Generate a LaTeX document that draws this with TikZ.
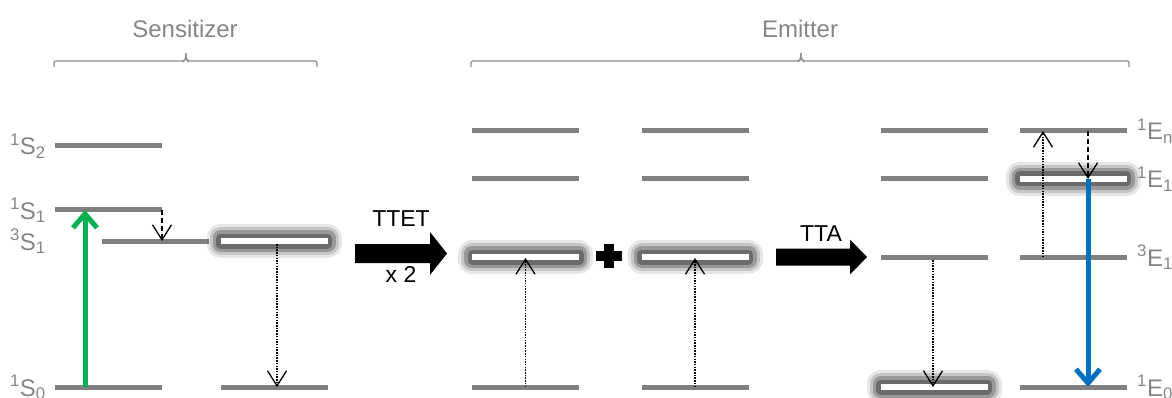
\documentclass[tikz,border=0pt]{standalone}
\usepackage{fontspec}
\setmainfont{Liberation Sans}
\usetikzlibrary{arrows.meta,calc}
\definecolor{lvlgray}{HTML}{808080}
\definecolor{txtgray}{HTML}{868686}
\definecolor{bracegray}{HTML}{8C8C8C}
\definecolor{grn}{HTML}{00B050}
\definecolor{blu}{HTML}{0070C0}
\begin{document}
\begin{tikzpicture}[x=1pt,y=-1pt,
  lvl/.style={rectangle, fill=lvlgray, minimum width=107pt, minimum height=5pt, inner sep=0pt, outer sep=0pt},
  hl/.style={rectangle, fill=white, minimum width=107pt, minimum height=6pt, inner sep=0pt, outer sep=0pt,
    preaction={draw=black!80, draw opacity=.12, line width=28pt, line join=round},
    preaction={draw=black!80, draw opacity=.18, line width=22pt, line join=round},
    preaction={draw=black!80, draw opacity=.30, line width=16pt, line join=round},
    preaction={draw=black!80, draw opacity=.45, line width=9pt, line join=round}},
  lab/.style={text=txtgray, font=\fontsize{24}{28}\selectfont, inner sep=0pt},
  blk/.style={text=black, font=\fontsize{23}{27}\selectfont, inner sep=0pt},
  brace/.style={draw=bracegray, line width=1.4pt, rounded corners=1.5pt},
  dotarrow/.style={line width=1.5pt, dash pattern=on 1.5pt off 1.2pt, -{Straight Barb[length=15pt,width=19pt,line width=1.3pt]}},
  dasharrow/.style={line width=1.4pt, dash pattern=on 5pt off 3pt, -{Straight Barb[length=15pt,width=19pt,line width=1.3pt]}},
  bigarrow/.style={line width=5pt, -{Straight Barb[length=14pt,width=24pt,line width=5pt]}},
]
\useasboundingbox (0,0) rectangle (1172,398);

% group titles and braces
\node[lab] (sens) at (185,29) {Sensitizer};
\node[lab] (emit) at (800,29) {Emitter};
\draw[brace] (54,67) -- (54,61) -- (184,61) -- (186,59) -- (186,53);
\draw[brace] (186,53) -- (186,59) -- (188,61) -- (317,61) -- (317,67);
\draw[brace] (471,67) -- (471,61) -- (799,61) -- (801,59) -- (801,53);
\draw[brace] (801,53) -- (801,59) -- (803,61) -- (1129,61) -- (1129,67);

% sensitizer levels
\node[lvl] (S2) at (108.5,146) {};
\node[lvl] (S1) at (108.5,210) {};
\node[lvl] (T1) at (155,241) {};
\node[hl]  (T1h) at (274,241) {};
\node[lvl] (S0a) at (108.5,387) {};
\node[lvl] (S0b) at (274,387) {};

% emitter levels
\foreach \g/\x in {A/525.5,B/695,C/934,D/1073}{
  \node[lvl] (En\g) at (\x,131) {};
}
\node[lvl] (EsA) at (525.5,179) {};
\node[lvl] (EsB) at (695,179) {};
\node[lvl] (EsC) at (934,179) {};
\node[hl]  (EsD) at (1073,179) {};
\node[hl]  (EtA) at (525.5,257) {};
\node[hl]  (EtB) at (695,257) {};
\node[lvl] (EtC) at (934,257) {};
\node[lvl] (EtD) at (1073,257) {};
\node[lvl] (E0A) at (525.5,387) {};
\node[lvl] (E0B) at (695,387) {};
\node[hl]  (E0C) at (934,387) {};
\node[lvl] (E0D) at (1073,387) {};

% level labels
\node[lab, anchor=base east] (lS2) at (46,155) {\textsuperscript{1}S\textsubscript{2}};
\node[lab, anchor=base east] (lS1) at (46,219) {\textsuperscript{1}S\textsubscript{1}};
\node[lab, anchor=base east] (lT1) at (46,250) {\textsuperscript{3}S\textsubscript{1}};
\node[lab, anchor=base east] (lS0) at (46,396) {\textsuperscript{1}S\textsubscript{0}};
\node[lab, anchor=base west] (lEn) at (1137,140) {\textsuperscript{1}E\textsubscript{n}};
\node[lab, anchor=base west] (lEs) at (1137,188) {\textsuperscript{1}E\textsubscript{1}};
\node[lab, anchor=base west] (lEt) at (1137,266) {\textsuperscript{3}E\textsubscript{1}};
\node[lab, anchor=base west] (lE0) at (1137,396) {\textsuperscript{1}E\textsubscript{0}};

% sensitizer transitions
\coordinate (gx) at (85,0);
\draw[bigarrow, grn] (S0a.center -| gx) -- (S1.center -| gx);
\draw[dasharrow] (S1.east) -- (S1.east |- T1.center);
\draw[dotarrow] ($(T1h.center)+(3,3)$) -- ($(S0b.center)+(3,0)$);

% block arrows and texts
\coordinate (ttet) at (401,253.5);
\fill[black] ($(ttet)+(-46,-9.5)$) -- ($(ttet)+(29,-9.5)$) -- ($(ttet)+(29,-21.5)$) -- ($(ttet)+(46,0)$)
  -- ($(ttet)+(29,21.5)$) -- ($(ttet)+(29,9.5)$) -- ($(ttet)+(-46,9.5)$) -- cycle;
\node[blk] (ttetlab) at (401,219) {TTET};
\node[blk] (x2lab) at (401,274) {x 2};
\coordinate (tta) at (821,257);
\fill[black] ($(tta)+(-45,-8.5)$) -- ($(tta)+(29,-8.5)$) -- ($(tta)+(29,-17.5)$) -- ($(tta)+(46,0)$)
  -- ($(tta)+(29,17.5)$) -- ($(tta)+(29,8.5)$) -- ($(tta)+(-45,8.5)$) -- cycle;
\node[blk] (ttalab) at (821,234) {TTA};

% plus sign
\coordinate (plus) at (609,256);
\fill[black] ($(plus)+(-13,-5)$) rectangle ($(plus)+(13,5)$);
\fill[black] ($(plus)+(-5,-12)$) rectangle ($(plus)+(5,12)$);

% emitter transitions
\draw[dotarrow] (E0A.center) -- ($(EtA.center)+(0,1)$);
\draw[dotarrow] (E0B.center) -- ($(EtB.center)+(0,1)$);
\draw[dotarrow] ($(EtC.center)+(-1,3)$) -- ($(E0C.center)+(-1,0)$);
\draw[dotarrow] ($(EtD.center)+(-30,0)$) -- ($(EnD.center)+(-30,0)$);
\draw[dasharrow] ($(EnD.center)+(15,0)$) -- ($(EsD.center)+(15,0)$);
\draw[bigarrow, blu] ($(EsD.center)+(15,0)$) -- ($(E0D.center)+(15,0)$);
\end{tikzpicture}
\end{document}
